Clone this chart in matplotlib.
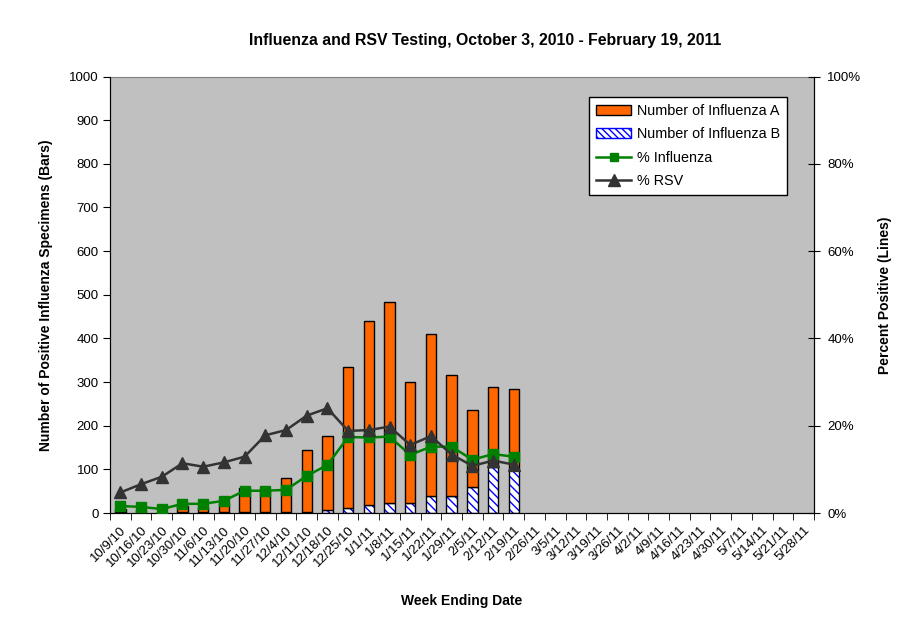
import numpy as np
import matplotlib
matplotlib.use("Agg")
import matplotlib.pyplot as plt
from matplotlib.patches import Patch
from matplotlib.lines import Line2D

plt.rcParams['font.family'] = ['Liberation Sans', 'DejaVu Sans']
plt.rcParams['hatch.linewidth'] = 1.0

# semanas (fecha de fin de semana)
semanas = ['10/9/10', '10/16/10', '10/23/10', '10/30/10', '11/6/10', '11/13/10',
           '11/20/10', '11/27/10', '12/4/10', '12/11/10', '12/18/10', '12/25/10',
           '1/1/11', '1/8/11', '1/15/11', '1/22/11', '1/29/11', '2/5/11',
           '2/12/11', '2/19/11', '2/26/11', '3/5/11', '3/12/11', '3/19/11',
           '3/26/11', '4/2/11', '4/9/11', '4/16/11', '4/23/11', '4/30/11',
           '5/7/11', '5/14/11', '5/21/11', '5/28/11']

# datos (solo hasta 2/19/11)
influenza_b = [2, 2, 1, 2, 2, 2, 3, 3, 3, 3, 8, 11, 18, 24, 24, 40, 40, 59, 106, 101]
influenza_a = [7, 5, 1, 13, 12, 20, 54, 52, 77, 141, 168, 323, 423, 460, 275, 371, 277, 176, 182, 184]
pct_influenza = [1.6, 1.4, 0.9, 2.1, 2.1, 2.8, 5.1, 5.1, 5.3, 8.5, 11.0, 17.4,
                 17.3, 17.5, 13.3, 15.2, 15.2, 12.2, 13.5, 12.9]
pct_rsv = [4.7, 6.6, 8.3, 11.4, 10.6, 11.6, 12.9, 17.8, 19.0, 22.3, 24.0, 18.8,
           19.0, 19.8, 15.6, 17.6, 13.4, 10.8, 12.0, 11.1]

naranja = '#FF6600'
verde = '#008000'
gris_osc = '#333333'

fig = plt.figure(figsize=(9.11, 6.23), dpi=100)
ax = fig.add_axes([110 / 911, 1 - 513 / 623, (814 - 110) / 911, (513 - 76.5) / 623])
ax.set_facecolor('#C0C0C0')

n = len(influenza_b)
x = np.arange(n)
ancho = 0.5

# barras apiladas: B abajo (rayado azul), A arriba (naranja)
ax.bar(x, influenza_b, width=ancho, color='white', edgecolor='#0000FF',
       hatch='\\\\\\\\', linewidth=0, zorder=2)
ax.bar(x, influenza_b, width=ancho, fill=False, edgecolor='black', linewidth=1, zorder=3)
ax.bar(x, influenza_a, width=ancho, bottom=influenza_b, color=naranja,
       edgecolor='black', linewidth=1, zorder=3)

ax.set_xlim(-0.5, len(semanas) - 0.5)
ax.set_ylim(0, 1000)
ax.set_yticks(np.arange(0, 1001, 100))
ax.tick_params(axis='y', direction='out', length=5, labelsize=9.5, pad=3)

ax.set_xticks(np.arange(len(semanas)))
ax.set_xticklabels(semanas, rotation=45, ha='right', rotation_mode='anchor', fontsize=9.5)
ax.set_xticks(np.arange(-0.5, len(semanas), 1), minor=True)
ax.tick_params(axis='x', which='major', length=0, pad=8)
ax.tick_params(axis='x', which='minor', direction='out', length=5)

for lado in ['left', 'bottom', 'right']:
    ax.spines[lado].set_color('black')
ax.spines['top'].set_color('#808080')

ax.set_ylabel('Number of Positive Influenza Specimens (Bars)', fontsize=10,
              fontweight='bold', labelpad=12)
ax.set_xlabel('Week Ending Date', fontsize=10, fontweight='bold', labelpad=18)

# eje secundario para porcentajes
ax2 = ax.twinx()
ax2.plot(x, pct_influenza, color=verde, linewidth=1.8, marker='s', markersize=7,
         markerfacecolor=verde, markeredgecolor=verde, zorder=4)
ax2.plot(x, pct_rsv, color=gris_osc, linewidth=1.8, marker='^', markersize=9,
         markerfacecolor=gris_osc, markeredgecolor=gris_osc, zorder=5)
ax2.set_ylim(0, 100)
ax2.set_yticks(np.arange(0, 101, 20))
ax2.set_yticklabels([f'{v}%' for v in range(0, 101, 20)])
ax2.tick_params(axis='y', direction='inout', length=9, labelsize=9.5, pad=5)
ax2.spines['top'].set_visible(False)
ax2.set_ylabel('Percent Positive (Lines)', fontsize=10, fontweight='bold', labelpad=12)

fig.suptitle('Influenza and RSV Testing, October 3, 2010 - February 19, 2011',
             x=485 / 911, y=1 - 40 / 623, va='center',
             fontsize=11.4, fontweight='bold')

handles = [
    Patch(facecolor=naranja, edgecolor='black', label='Number of Influenza A'),
    Patch(facecolor='white', edgecolor='#0000FF', hatch='\\\\\\\\\\', label='Number of Influenza B'),
    Line2D([], [], color=verde, marker='s', markersize=6, linewidth=1.8, label='% Influenza'),
    Line2D([], [], color=gris_osc, marker='^', markersize=8, linewidth=1.8, label='% RSV'),
]
leg = ax2.legend(handles=handles, loc='upper right',
                 bbox_to_anchor=((787 - 110) / 704, (513 - 97) / 436.5),
                 fontsize=10.4, frameon=True, fancybox=False, framealpha=1,
                 edgecolor='black', borderpad=0.5, labelspacing=0.64,
                 handlelength=2.4, handletextpad=0.4, borderaxespad=0)
leg.get_frame().set_linewidth(1)

fig.savefig('out.png', dpi=100)
